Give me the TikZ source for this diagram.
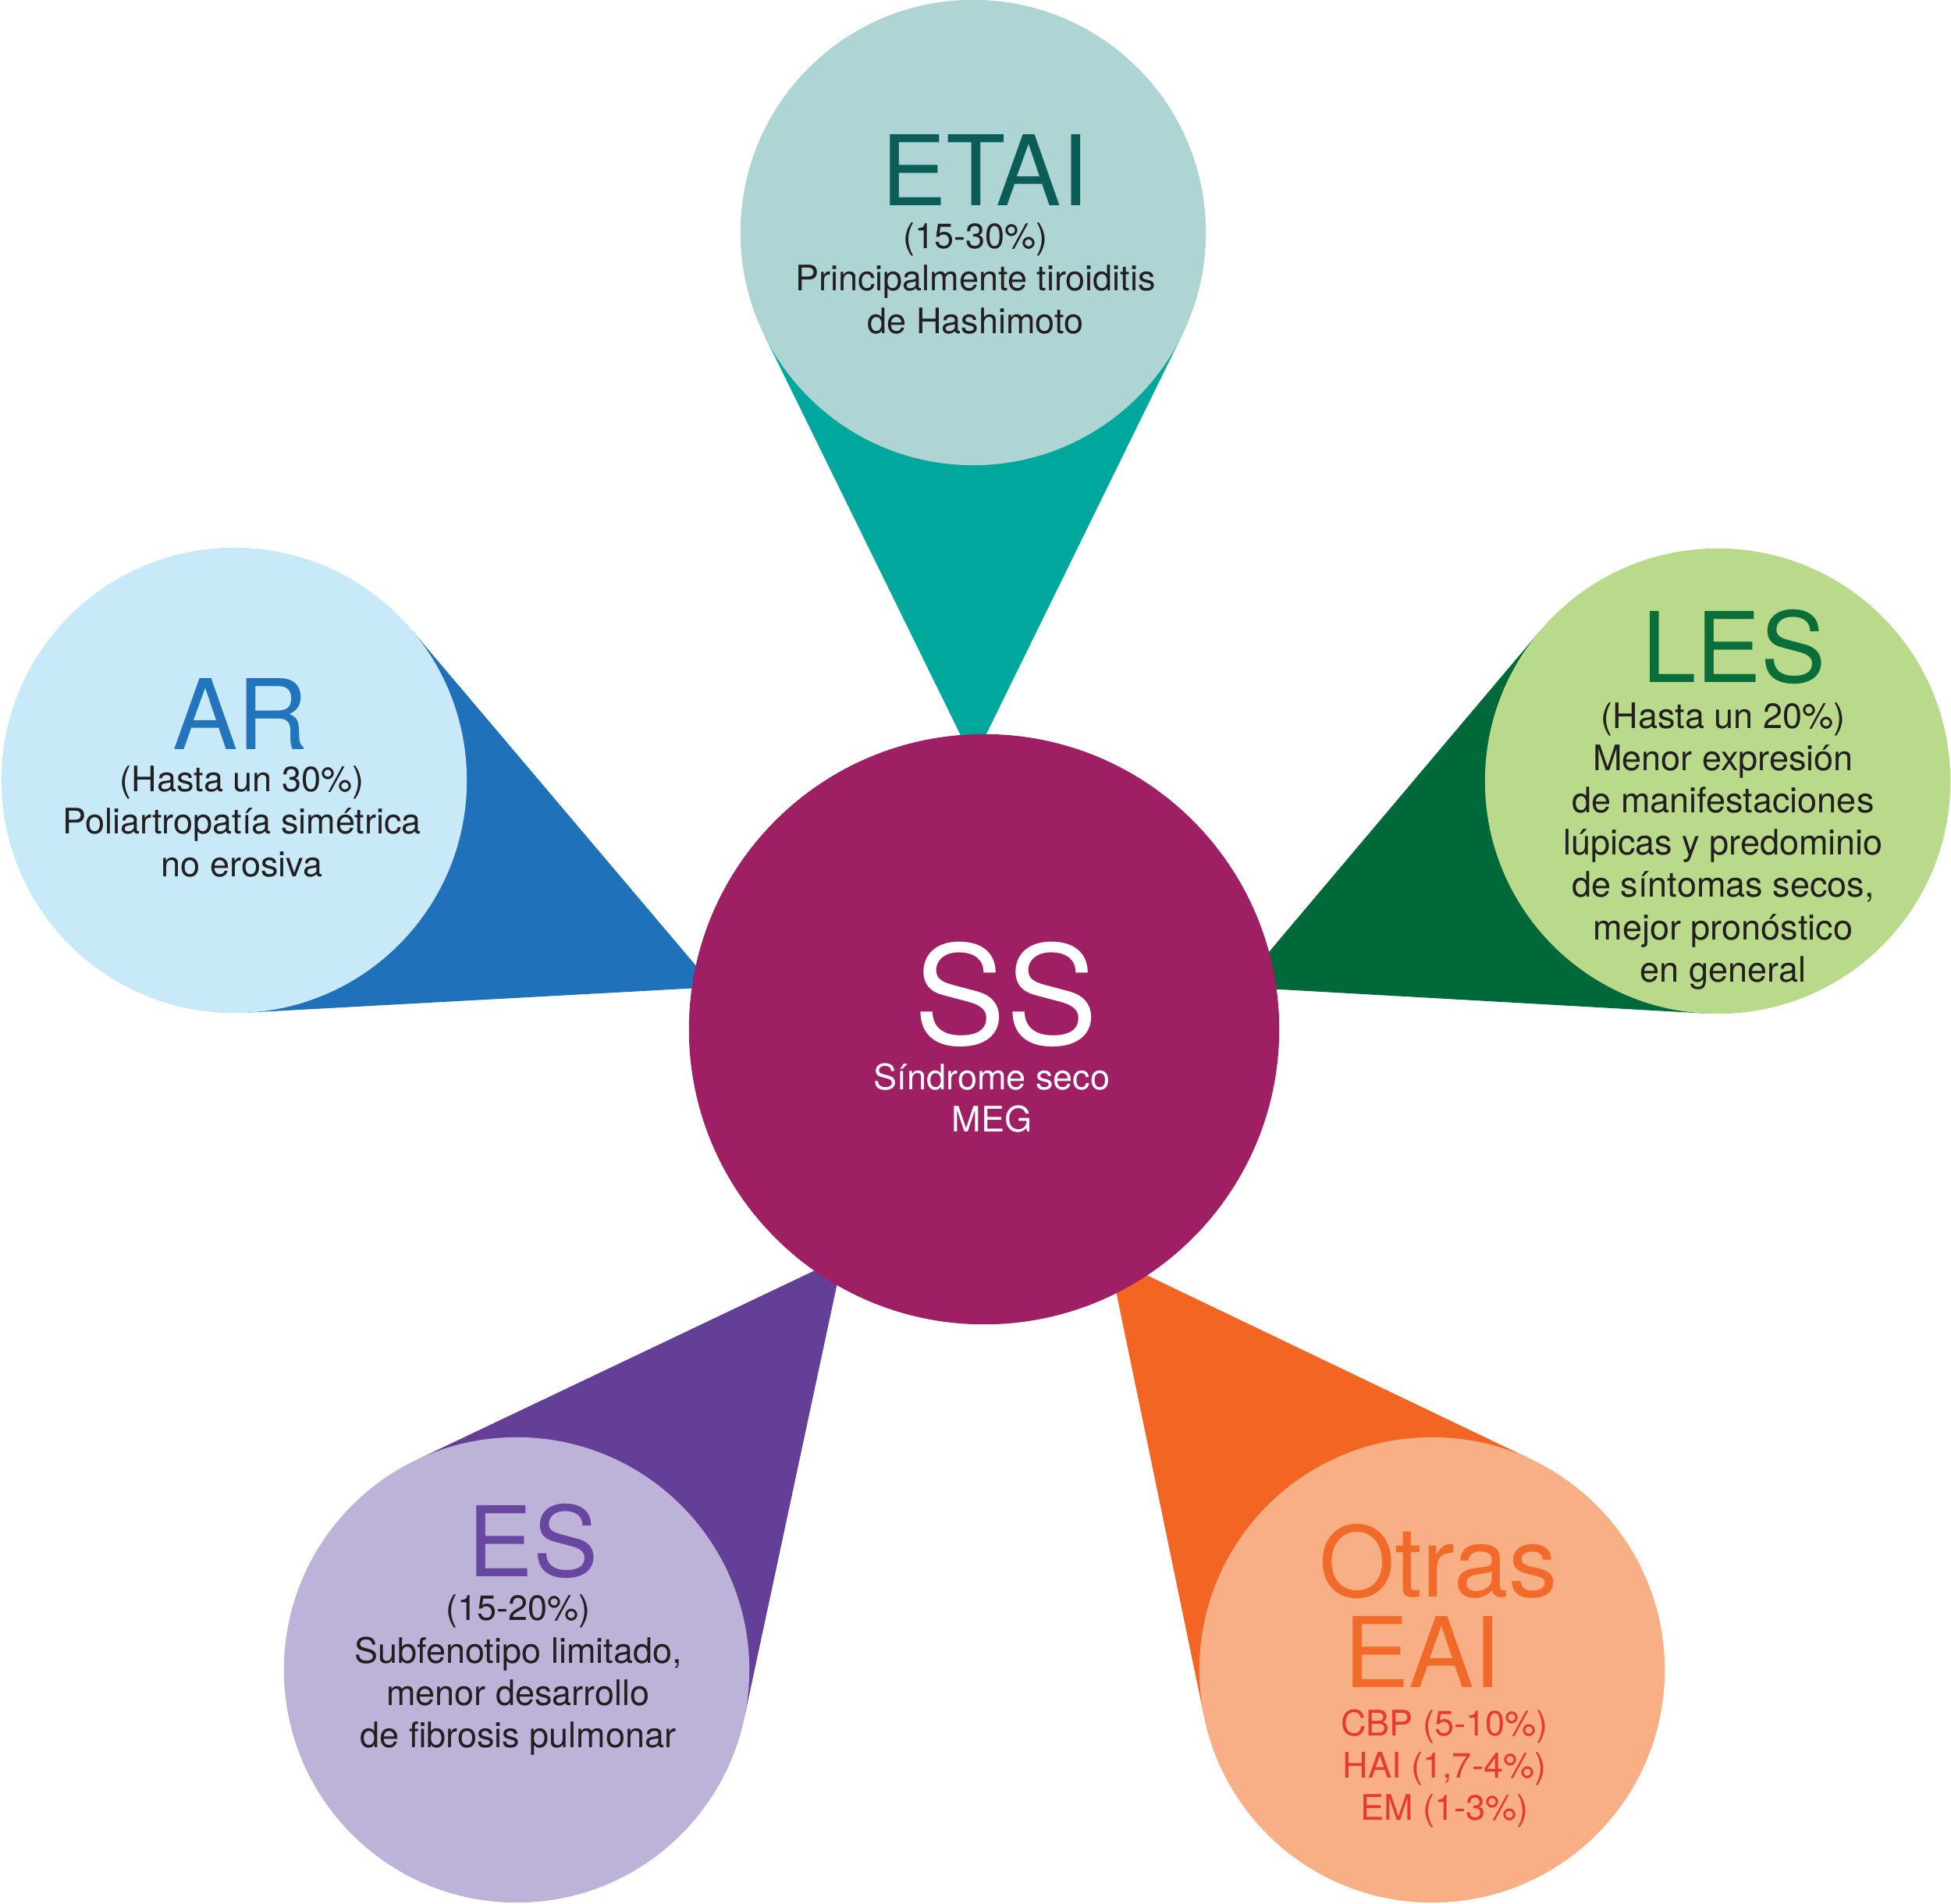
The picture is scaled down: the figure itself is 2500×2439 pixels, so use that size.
\documentclass[tikz,border=0pt]{standalone}
\usepackage{fontspec}
\setmainfont{TeX Gyre Heros}
\usetikzlibrary{calc,backgrounds}
\definecolor{sscol}{HTML}{9E1F63}
\definecolor{etaiC}{HTML}{AED4D3}
\definecolor{etaiW}{HTML}{00A79D}
\definecolor{etaiT}{HTML}{0B5E58}
\definecolor{lesC}{HTML}{B9D98B}
\definecolor{lesW}{HTML}{00693A}
\definecolor{lesT}{HTML}{0A6E3A}
\definecolor{arC}{HTML}{C8E9F8}
\definecolor{arW}{HTML}{1F72BA}
\definecolor{arT}{HTML}{2274BC}
\definecolor{esC}{HTML}{BDB2D8}
\definecolor{esW}{HTML}{643F98}
\definecolor{esT}{HTML}{6747A0}
\definecolor{otC}{HTML}{F8AF85}
\definecolor{otW}{HTML}{F26522}
\definecolor{otT}{HTML}{F26A2A}
\definecolor{otR}{HTML}{E8392F}
\definecolor{bodytext}{HTML}{231F20}
\begin{document}
\begin{tikzpicture}[x=0.01cm,y=-0.01cm,
  disc/.style={circle,inner sep=0pt,outer sep=0pt,minimum size=5.96cm},
  bodytxt/.style={align=center,anchor=base,text=bodytext,inner sep=0pt,
    font=\fontsize{12.8}{15.36}\selectfont},
  ttl/.style={anchor=base,inner sep=0pt,font=\fontsize{35.5}{35.5}\selectfont}]
\useasboundingbox (0,0) rectangle (2500,2439);
% apex points of the wedges
\coordinate (aetai) at (1247,975);
\coordinate (aar) at (915,1265);
\coordinate (ales) at (1588,1265);
\coordinate (aes) at (1080,1611);
\coordinate (aot) at (1421,1611);
% discs
\node[disc,fill=sscol,minimum size=7.56cm] (css) at (1261,1319) {};
\node[disc,fill=etaiC] (cetai) at (1247,298) {};
\node[disc,fill=arC] (car) at (300,1000) {};
\node[disc,fill=lesC] (cles) at (2201,1001) {};
\node[disc,fill=esC] (ces) at (662,2140) {};
\node[disc,fill=otC] (cot) at (1835,2140) {};
% wedges behind
\begin{pgfonlayer}{background}
\fill[white] (0,0) rectangle (2500,2439);
\foreach \n/\c in {etai/etaiW,ar/arW,les/lesW,es/esW,ot/otW}{
  \fill[\c] (a\n) -- (tangent cs:node=c\n,point={(a\n)},solution=1)
    -- (tangent cs:node=c\n,point={(a\n)},solution=2) -- cycle;
}
\end{pgfonlayer}
% texts (multi-line nodes are anchored at the baseline of their last line)
\node[ttl,text=etaiT] (tetai) at (1262,263) {ETAI};
\node[bodytxt] (betai) at (1250,427) {(15-30\%)\\Principalmente tiroiditis\\de Hashimoto};
\node[ttl,text=arT] (tar) at (308,960) {AR};
\node[bodytxt] (bar) at (310,1123) {(Hasta un 30\%)\\Poliartropatía simétrica\\no erosiva};
\node[ttl,text=lesT] (tles) at (2222,874) {LES};
\node[bodytxt] (bles) at (2208,1258) {(Hasta un 20\%)\\Menor expresión\\de manifestaciones\\lúpicas y predominio\\de síntomas secos,\\mejor pronóstico\\en general};
\node[anchor=base,inner sep=0pt,text=white,font=\fontsize{50}{50}\selectfont] (tss) at (1289,1338) {SS};
\node[bodytxt,text=white] (bss) at (1271,1450) {Síndrome seco\\MEG};
\node[ttl,text=esT] (tes) at (683,2020) {ES};
\node[bodytxt] (bes) at (664,2239) {(15-20\%)\\Subfenotipo limitado,\\menor desarrollo\\de fibrosis pulmonar};
\node[ttl,text=otT] (tot1) at (1843,2046) {Otras};
\node[ttl,text=otT] (tot2) at (1823,2162) {EAI};
\node[bodytxt,text=otR] (bot) at (1851,2332) {CBP (5-10\%)\\HAI (1,7-4\%)\\EM (1-3\%)};
\end{tikzpicture}
\end{document}
